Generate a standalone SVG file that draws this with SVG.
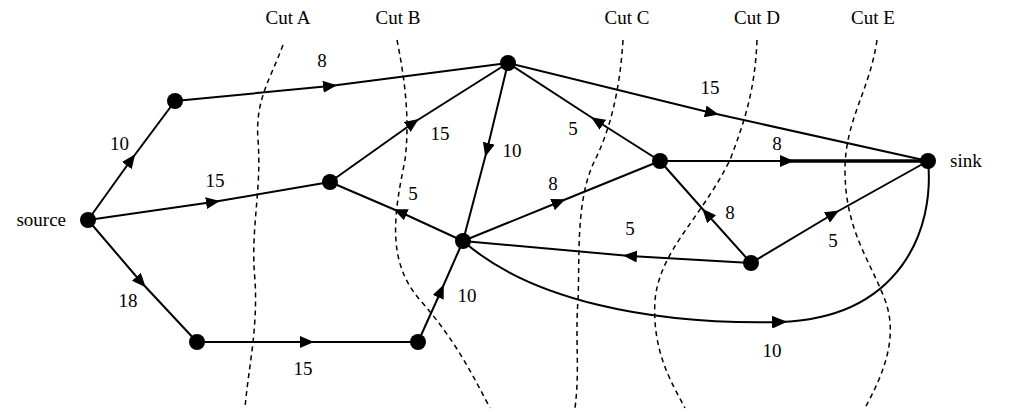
<svg xmlns="http://www.w3.org/2000/svg" width="1011" height="412" viewBox="0 0 1011 412">
<style>
.e{fill:none;stroke:#000;stroke-width:2;marker-mid:url(#ar)}
.c{fill:none;stroke:#000;stroke-width:1.5;stroke-dasharray:5,4}
text{font-family:"Liberation Serif",serif;font-size:19px;fill:#000}
.n{fill:#000}
</style>
<defs><marker id="ar" markerUnits="userSpaceOnUse" markerWidth="14" markerHeight="12" refX="7" refY="6" orient="auto"><path d="M0,0L14,6L0,12z" fill="#000"/></marker></defs>
<rect width="1011" height="412" fill="#fff"/>
<g id="cuts">
<path class="c" d="M283,45 C270,80 255,100 258,140 C262,190 250,230 255,280 C258,330 248,370 245,408"/>
<path class="c" d="M397,40 C405,80 410,120 405,160 C395,210 385,260 420,300 C455,340 470,370 490,408"/>
<path class="c" d="M623,40 C620,90 610,130 595,160 C575,200 580,260 578,300 C575,340 580,370 575,408"/>
<path class="c" d="M757,40 C755,90 745,120 730,160 C700,220 660,250 655,300 C652,350 670,380 685,408"/>
<path class="c" d="M877,40 C870,90 845,120 845,170 C845,230 870,260 885,300 C900,340 880,380 865,408"/>
<text x="288" y="24" text-anchor="middle">Cut A</text>
<text x="398" y="24" text-anchor="middle">Cut B</text>
<text x="627" y="24" text-anchor="middle">Cut C</text>
<text x="757" y="24" text-anchor="middle">Cut D</text>
<text x="873" y="24" text-anchor="middle">Cut E</text>
</g>
<g id="connectors">
<path class="e" d="M88,220 L131,160 L175,101"/>
<path class="e" d="M175,101 L330,86 L508,63"/>
<path class="e" d="M88,220 L213,202 L330,182"/>
<path class="e" d="M88,220 L141,282 L197,342"/>
<path class="e" d="M197,342 L307,342 L418,342"/>
<path class="e" d="M418,342 L441,291 L463,241"/>
<path class="e" d="M330,182 L413,123 L508,63"/>
<path class="e" d="M463,241 L400,212 L330,182"/>
<path class="e" d="M508,63 L487,150 L463,241"/>
<path class="e" d="M660,161 L597,121 L508,63"/>
<path class="e" d="M463,241 L559,202 L660,161"/>
<path class="e" d="M508,63 L712,113 L928,161"/>
<path class="e" d="M660,161 L787,161 L928,161"/>
<line x1="790" y1="161" x2="928" y2="161" stroke="#000" stroke-width="3.5"/>
<path class="e" d="M751,263 L707,214 L660,161"/>
<path class="e" d="M751,263 L630,256 L463,241"/>
<path class="e" d="M751,263 L833,214 L928,161"/>
<path class="e" d="M463,241 C530,300 650,325 780,322 C900,318 935,230 928,161"/>
<path d="M772,316 L786,322 L772,328z" fill="#000"/>
<text x="110" y="150">10</text>
<text x="322" y="67" text-anchor="middle">8</text>
<text x="215" y="187" text-anchor="middle">15</text>
<text x="128" y="307" text-anchor="middle">18</text>
<text x="303" y="375" text-anchor="middle">15</text>
<text x="467" y="302" text-anchor="middle">10</text>
<text x="440" y="140" text-anchor="middle">15</text>
<text x="413" y="200" text-anchor="middle">5</text>
<text x="512" y="157" text-anchor="middle">10</text>
<text x="573" y="135" text-anchor="middle">5</text>
<text x="553" y="190" text-anchor="middle">8</text>
<text x="710" y="94" text-anchor="middle">15</text>
<text x="777" y="150" text-anchor="middle">8</text>
<text x="730" y="219" text-anchor="middle">8</text>
<text x="630" y="235" text-anchor="middle">5</text>
<text x="833" y="247" text-anchor="middle">5</text>
<text x="772" y="357" text-anchor="middle">10</text>
</g>
<g id="source"><circle class="n" cx="88" cy="220" r="8"/><text x="66" y="226" text-anchor="end">source</text></g>
<g id="n1"><circle class="n" cx="175" cy="101" r="8"/></g>
<g id="n2"><circle class="n" cx="330" cy="182" r="8"/></g>
<g id="n3"><circle class="n" cx="197" cy="342" r="8"/></g>
<g id="n4"><circle class="n" cx="418" cy="342" r="8"/></g>
<g id="n5"><circle class="n" cx="508" cy="63" r="8"/></g>
<g id="n6"><circle class="n" cx="463" cy="241" r="8"/></g>
<g id="n7"><circle class="n" cx="660" cy="161" r="8"/></g>
<g id="n8"><circle class="n" cx="751" cy="263" r="8"/></g>
<g id="sink"><circle class="n" cx="928" cy="161" r="8"/><text x="950" y="167">sink</text></g>
</svg>
